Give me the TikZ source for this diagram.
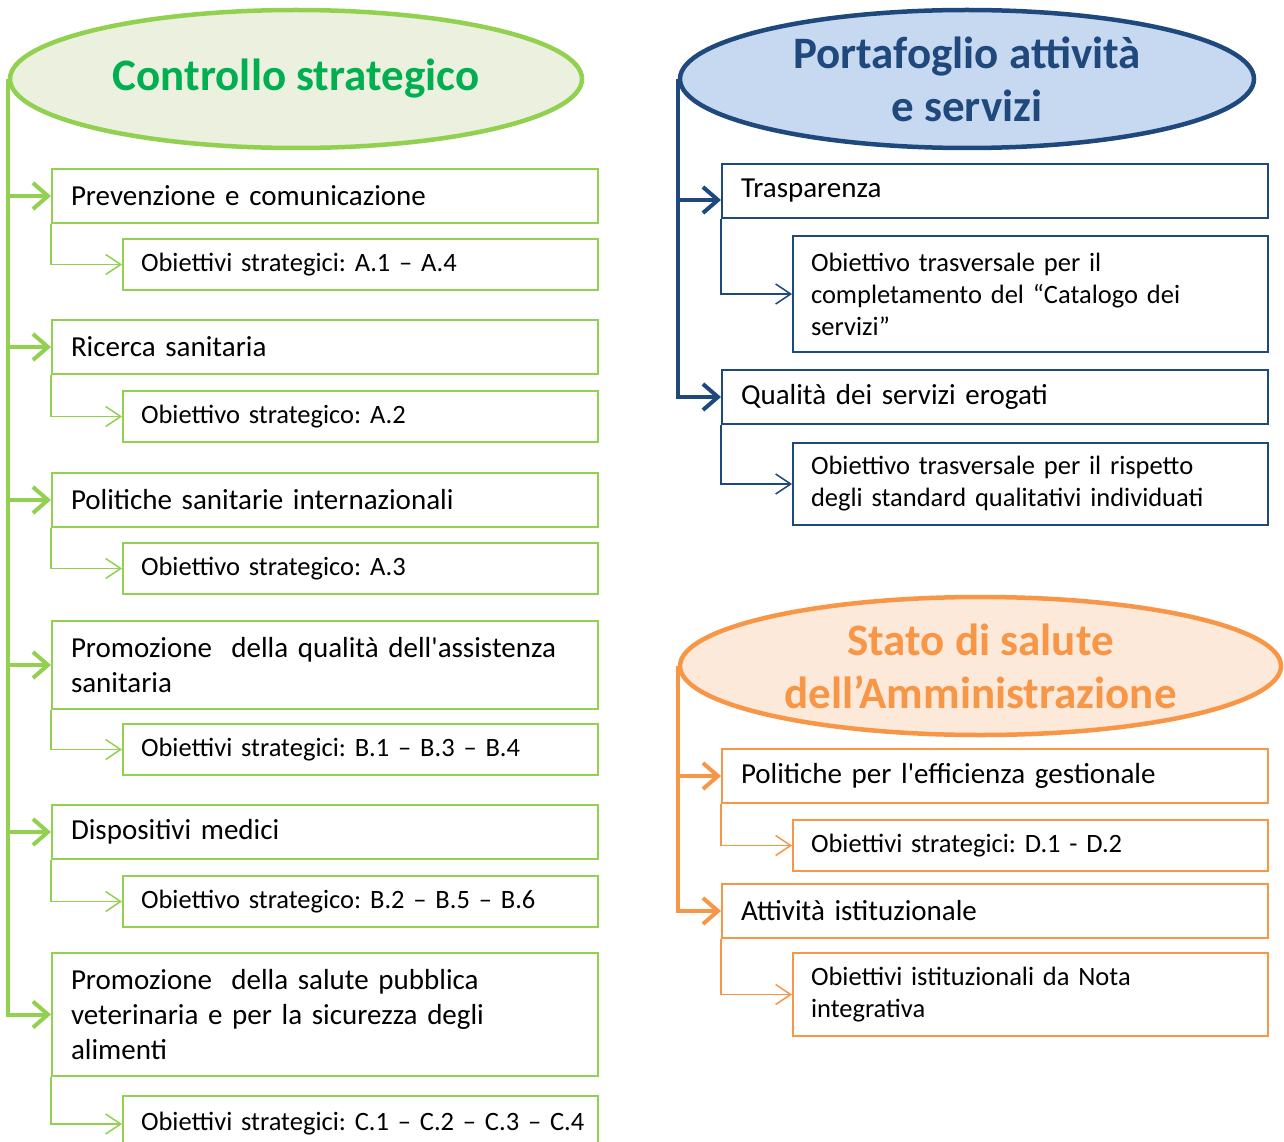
\documentclass[tikz,border=0pt]{standalone}
\usepackage{fontspec}
\setmainfont{Carlito}
\newfontfamily\subfont{Carlito}[WordSpace=0.5]
\usetikzlibrary{shapes.geometric,arrows.meta,positioning}
\definecolor{csline}{HTML}{92D050}
\definecolor{csfill}{HTML}{EBF1DE}
\definecolor{cstext}{HTML}{00B050}
\definecolor{psline}{HTML}{1F497D}
\definecolor{psfill}{HTML}{C6D9F1}
\definecolor{saline}{HTML}{F79646}
\definecolor{safill}{HTML}{FDE9D9}
\frenchspacing
\begin{document}
\begin{tikzpicture}[x=1pt,y=-1pt,
	title/.style={ellipse,draw,line width=4.5pt,inner sep=0pt,minimum height=138pt,align=center,font=\fontsize{45}{53}\selectfont\bfseries},
	lvlbox/.style={draw,line width=2pt,fill=white,anchor=north west,minimum height=54pt,text width=508pt,inner xsep=19pt,align=left,font=\fontsize{29}{35}\selectfont},
	subbox/.style={draw,line width=2pt,fill=white,minimum height=51pt,text width=439pt,inner xsep=18pt,align=left,font=\subfont\fontsize{26.5}{32}\selectfont},
	trunk/.style={line width=4pt,-{Straight Barb[length=15pt,width=26pt]}},
	twig/.style={line width=1.5pt,-{Straight Barb[length=15pt,width=20pt]}}]

	\path[use as bounding box,fill=white] (0,0) rectangle (1284,1142);

	% controllo strategico
	\node[title,draw=csline,fill=csfill,text=cstext,minimum width=572pt] (cs) at (296,79) {Controllo strategico};
	\node[lvlbox,draw=csline] (cs1) at (51,168) {Prevenzione e comunicazione};
	\node[subbox,draw=csline,below=14pt of cs1.south east,anchor=north east] (csobj1) {Obiettivi strategici: A.1 – A.4};
	\node[lvlbox,draw=csline] (cs2) at (51,319) {Ricerca sanitaria};
	\node[subbox,draw=csline,below=15pt of cs2.south east,anchor=north east] (csobj2) {Obiettivo strategico: A.2};
	\node[lvlbox,draw=csline] (cs3) at (51,472) {Politiche sanitarie internazionali};
	\node[subbox,draw=csline,below=14pt of cs3.south east,anchor=north east] (csobj3) {Obiettivo strategico: A.3};
	\node[lvlbox,draw=csline,minimum height=88pt] (cs4) at (51,620) {Promozione~ della qualità dell\textquotesingle assistenza\\sanitaria};
	\node[subbox,draw=csline,below=13pt of cs4.south east,anchor=north east] (csobj4) {Obiettivi strategici: B.1 – B.3 – B.4};
	\node[lvlbox,draw=csline] (cs5) at (51,804) {Dispositivi medici};
	\node[subbox,draw=csline,below=15pt of cs5.south east,anchor=north east] (csobj5) {Obiettivo strategico: B.2 – B.5 – B.6};
	\node[lvlbox,draw=csline,minimum height=123pt] (cs6) at (51,952) {Promozione~ della salute pubblica\\veterinaria e per la sicurezza degli\\alimenti};
	\node[subbox,draw=csline,minimum height=56pt,below=18pt of cs6.south east,anchor=north east] (csobj6) {\mbox{Obiettivi strategici: C.1 – C.2 – C.3 – C.4}};

	\draw[trunk,draw=csline] (cs.west) |- (cs6.west);
	\foreach \n in {1,...,5}
		\draw[trunk,draw=csline] (cs.west |- cs\n.west) -- (cs\n.west);
	\foreach \n in {1,...,6}
		\draw[twig,draw=csline] (cs\n.south west) |- (csobj\n.west);

	% portafoglio
	\node[title,draw=psline,fill=psfill,text=psline,minimum width=574pt] (ps) at (967,79) {Portafoglio attività\\e servizi};
	\node[lvlbox,draw=psline] (ps1) at (721,163) {Trasparenza};
	\node[subbox,draw=psline,minimum height=116pt,below=16pt of ps1.south east,anchor=north east] (psobj1) {Obiettivo trasversale per il\\completamento del “Catalogo dei\\servizi”};
	\node[lvlbox,draw=psline] (ps2) at (721,369) {Qualità dei servizi erogati};
	\node[subbox,draw=psline,minimum height=82pt,below=17pt of ps2.south east,anchor=north east] (psobj2) {Obiettivo trasversale per il rispetto\\degli standard qualitativi individuati};
	\coordinate (ps1in) at ([yshift=-9pt]ps1.west);

	\draw[trunk,draw=psline] (ps.west) |- (ps2.west);
	\draw[trunk,draw=psline] (ps.west |- ps1in) -- (ps1in);
	\foreach \n in {1,2}
		\draw[twig,draw=psline] (ps\n.south west) |- (psobj\n.west);

	% stato di salute
	\node[title,draw=saline,fill=safill,text=saline,minimum width=601pt] (sa) at (980.5,666) {Stato di salute\\dell’Amministrazione};
	\node[lvlbox,draw=saline] (sa1) at (721,748) {Politiche per l\textquotesingle efficienza gestionale};
	\node[subbox,draw=saline,below=15pt of sa1.south east,anchor=north east] (saobj1) {Obiettivi strategici: D.1 - D.2};
	\node[lvlbox,draw=saline] (sa2) at (721,883) {Attività istituzionale};
	\node[subbox,draw=saline,minimum height=83pt,below=13pt of sa2.south east,anchor=north east] (saobj2) {Obiettivi istituzionali da Nota\\integrativa};

	\draw[trunk,draw=saline] (sa.west) |- (sa2.west);
	\draw[trunk,draw=saline] (sa.west |- sa1.west) -- (sa1.west);
	\foreach \n in {1,2}
		\draw[twig,draw=saline] (sa\n.south west) |- (saobj\n.west);

\end{tikzpicture}
\end{document}
